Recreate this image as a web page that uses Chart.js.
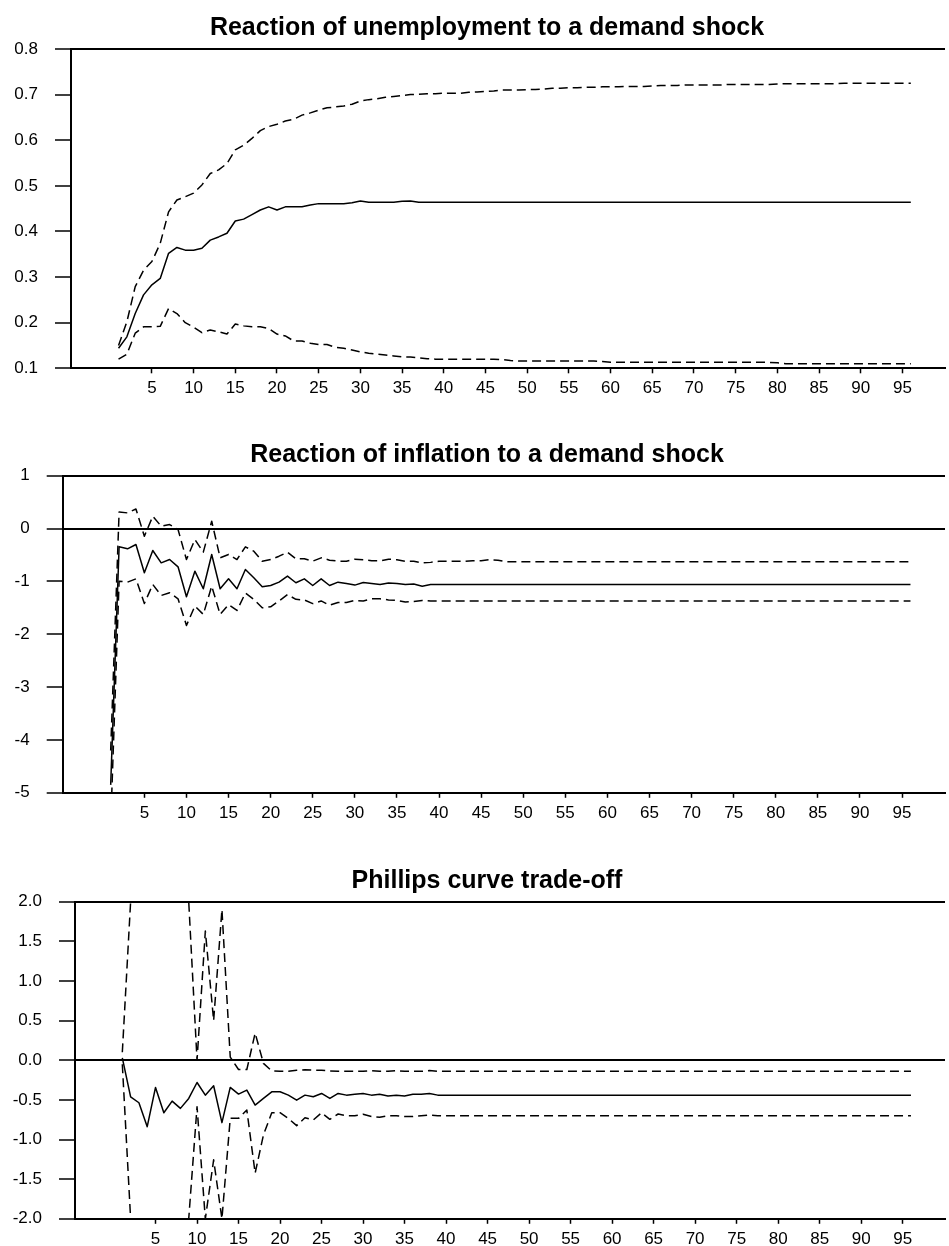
<!DOCTYPE html>
<html>
<head>
<meta charset="utf-8">
<title>Impulse responses to a demand shock</title>
<script src="https://cdn.jsdelivr.net/npm/chart.js@4.4.1/dist/chart.umd.min.js"></script>
<style>
  body { margin: 0; background: #fff; }
  #wrap { position: relative; width: 949px; height: 1246px; }
  .panel { position: absolute; left: 0; width: 949px; }
</style>
</head>
<body>
<div id="wrap">
  <div class="panel" style="top:0px;height:410px"><canvas id="unempChart" width="949" height="410"></canvas></div>
  <div class="panel" style="top:410px;height:410px"><canvas id="inflChart" width="949" height="410"></canvas></div>
  <div class="panel" style="top:820px;height:426px"><canvas id="tradeChart" width="949" height="426"></canvas></div>
</div>
<script>
// horizon steps (x categories)
var steps = [
  1, 2, 3, 4, 5, 6, 7, 8, 9, 10, 11, 12, 13, 14, 15, 16, 17, 18, 19, 20,
  21, 22, 23, 24, 25, 26, 27, 28, 29, 30, 31, 32, 33, 34, 35, 36, 37, 38, 39, 40,
  41, 42, 43, 44, 45, 46, 47, 48, 49, 50, 51, 52, 53, 54, 55, 56, 57, 58, 59, 60,
  61, 62, 63, 64, 65, 66, 67, 68, 69, 70, 71, 72, 73, 74, 75, 76, 77, 78, 79, 80,
  81, 82, 83, 84, 85, 86, 87, 88, 89, 90, 91, 92, 93, 94, 95, 96
];
var xTicks = [5, 10, 15, 20, 25, 30, 35, 40, 45, 50, 55, 60, 65, 70, 75, 80, 85, 90, 95];
var xLabels = ["5", "10", "15", "20", "25", "30", "35", "40", "45", "50", "55", "60", "65", "70", "75", "80", "85", "90", "95"];

// unemployment response
var unempIrf = [
  0.144, 0.169, 0.220, 0.261, 0.283, 0.297, 0.352, 0.365, 0.359, 0.359,
  0.363, 0.381, 0.388, 0.396, 0.423, 0.427, 0.437, 0.447, 0.454, 0.447,
  0.454, 0.454, 0.454, 0.458, 0.461, 0.461, 0.461, 0.461, 0.463, 0.467,
  0.464, 0.464, 0.464, 0.464, 0.466, 0.467, 0.464, 0.464, 0.464, 0.464,
  0.464, 0.464, 0.464, 0.464, 0.464, 0.464, 0.464, 0.464, 0.464, 0.464,
  0.464, 0.464, 0.464, 0.464, 0.464, 0.464, 0.464, 0.464, 0.464, 0.464,
  0.464, 0.464, 0.464, 0.464, 0.464, 0.464, 0.464, 0.464, 0.464, 0.464,
  0.464, 0.464, 0.464, 0.464, 0.464, 0.464, 0.464, 0.464, 0.464, 0.464,
  0.464, 0.464, 0.464, 0.464, 0.464, 0.464, 0.464, 0.464, 0.464, 0.464,
  0.464, 0.464, 0.464, 0.464, 0.464, 0.464
];
var unempUpper = [
  0.150, 0.202, 0.279, 0.315, 0.334, 0.374, 0.443, 0.469, 0.476, 0.484,
  0.502, 0.527, 0.535, 0.549, 0.579, 0.589, 0.604, 0.621, 0.630, 0.635,
  0.642, 0.646, 0.655, 0.660, 0.666, 0.671, 0.673, 0.675, 0.679, 0.686,
  0.689, 0.691, 0.694, 0.696, 0.698, 0.700, 0.701, 0.702, 0.702, 0.703,
  0.703, 0.703, 0.705, 0.706, 0.707, 0.708, 0.710, 0.710, 0.710, 0.711,
  0.711, 0.712, 0.714, 0.714, 0.715, 0.715, 0.716, 0.716, 0.717, 0.717,
  0.717, 0.718, 0.718, 0.718, 0.719, 0.720, 0.720, 0.720, 0.721, 0.721,
  0.721, 0.721, 0.721, 0.722, 0.722, 0.722, 0.722, 0.722, 0.722, 0.723,
  0.724, 0.724, 0.724, 0.724, 0.724, 0.724, 0.724, 0.725, 0.725, 0.725,
  0.725, 0.725, 0.725, 0.725, 0.725, 0.725
];
var unempLower = [
  0.120, 0.131, 0.177, 0.191, 0.191, 0.192, 0.231, 0.220, 0.200, 0.190,
  0.178, 0.184, 0.180, 0.175, 0.197, 0.193, 0.191, 0.191, 0.187, 0.175,
  0.171, 0.160, 0.160, 0.155, 0.152, 0.152, 0.146, 0.144, 0.140, 0.136,
  0.133, 0.131, 0.129, 0.127, 0.125, 0.125, 0.123, 0.121, 0.120, 0.120,
  0.120, 0.120, 0.120, 0.120, 0.120, 0.120, 0.119, 0.117, 0.116, 0.116,
  0.116, 0.116, 0.116, 0.116, 0.116, 0.116, 0.116, 0.116, 0.115, 0.113,
  0.113, 0.113, 0.113, 0.113, 0.113, 0.113, 0.113, 0.113, 0.113, 0.113,
  0.113, 0.113, 0.113, 0.113, 0.113, 0.113, 0.113, 0.113, 0.113, 0.112,
  0.110, 0.110, 0.110, 0.110, 0.110, 0.110, 0.110, 0.110, 0.110, 0.110,
  0.110, 0.110, 0.110, 0.110, 0.110, 0.110
];
var unempYTicks = [0.1, 0.2, 0.3, 0.4, 0.5, 0.6, 0.7, 0.8];
var unempYLabels = ["0.1", "0.2", "0.3", "0.4", "0.5", "0.6", "0.7", "0.8"];

// inflation response
var inflIrf = [
  -4.85, -0.346, -0.384, -0.302, -0.838, -0.416, -0.649, -0.586, -0.724, -1.291,
  -0.806, -1.140, -0.491, -1.140, -0.951, -1.140, -0.775, -0.932, -1.102, -1.077,
  -1.014, -0.900, -1.026, -0.951, -1.077, -0.951, -1.077, -1.014, -1.039, -1.070,
  -1.020, -1.040, -1.060, -1.030, -1.040, -1.060, -1.050, -1.090, -1.060, -1.060,
  -1.060, -1.060, -1.060, -1.060, -1.060, -1.060, -1.060, -1.060,
  -1.060, -1.060, -1.060, -1.060, -1.060, -1.060, -1.060, -1.060,
  -1.060, -1.060, -1.060, -1.060, -1.060, -1.060, -1.060, -1.060,
  -1.060, -1.060, -1.060, -1.060, -1.060, -1.060, -1.060, -1.060,
  -1.060, -1.060, -1.060, -1.060, -1.060, -1.060, -1.060, -1.060,
  -1.060, -1.060, -1.060, -1.060, -1.060, -1.060, -1.060, -1.060,
  -1.060, -1.060, -1.060, -1.060, -1.060, -1.060, -1.060, -1.060
];
var inflUpper = [
  -4.20, 0.315, 0.296, 0.370, -0.145, 0.233, 0.044, 0.076, -0.019, -0.586,
  -0.208, -0.447, 0.139, -0.554, -0.491, -0.586, -0.346, -0.428, -0.617, -0.586,
  -0.523, -0.447, -0.573, -0.573, -0.617, -0.554, -0.598, -0.617, -0.617, -0.580,
  -0.590, -0.610, -0.610, -0.580, -0.590, -0.620, -0.620, -0.650, -0.640, -0.620,
  -0.620, -0.620, -0.620, -0.610, -0.610, -0.590, -0.600, -0.630, -0.630, -0.630,
  -0.630, -0.630, -0.630, -0.630, -0.630, -0.630, -0.630, -0.630, -0.630, -0.630,
  -0.630, -0.630, -0.630, -0.630, -0.630, -0.630, -0.630, -0.630, -0.630, -0.630,
  -0.630, -0.630, -0.630, -0.630, -0.630, -0.630, -0.630, -0.630, -0.630, -0.630,
  -0.630, -0.630, -0.630, -0.630, -0.630, -0.630, -0.630, -0.630, -0.630, -0.630,
  -0.630, -0.630, -0.630, -0.630, -0.630, -0.630
];
var inflLower = [
  -5.60, -0.995, -1.014, -0.951, -1.417, -1.058, -1.266, -1.215, -1.329, -1.833,
  -1.467, -1.625, -1.089, -1.625, -1.440, -1.550, -1.220, -1.340, -1.500, -1.480,
  -1.370, -1.250, -1.340, -1.350, -1.420, -1.370, -1.450, -1.400, -1.400, -1.360,
  -1.370, -1.330, -1.330, -1.350, -1.360, -1.390, -1.380, -1.360, -1.370, -1.370,
  -1.370, -1.370, -1.370, -1.370, -1.370, -1.370, -1.370, -1.370,
  -1.370, -1.370, -1.370, -1.370, -1.370, -1.370, -1.370, -1.370,
  -1.370, -1.370, -1.370, -1.370, -1.370, -1.370, -1.370, -1.370,
  -1.370, -1.370, -1.370, -1.370, -1.370, -1.370, -1.370, -1.370,
  -1.370, -1.370, -1.370, -1.370, -1.370, -1.370, -1.370, -1.370,
  -1.370, -1.370, -1.370, -1.370, -1.370, -1.370, -1.370, -1.370,
  -1.370, -1.370, -1.370, -1.370, -1.370, -1.370, -1.370, -1.370
];
var inflYTicks = [-5, -4, -3, -2, -1, 0, 1];
var inflYLabels = ["-5", "-4", "-3", "-2", "-1", "0", "1"];

// phillips curve trade-off
var tradeIrf = [
  0.030, -0.461, -0.536, -0.838, -0.343, -0.662, -0.515, -0.607, -0.482, -0.281,
  -0.440, -0.322, -0.787, -0.343, -0.427, -0.377, -0.565, -0.482, -0.398, -0.398,
  -0.440, -0.503, -0.440, -0.461, -0.419, -0.482, -0.419, -0.440, -0.430, -0.420,
  -0.440, -0.430, -0.450, -0.440, -0.450, -0.430, -0.430, -0.420, -0.440, -0.440,
  -0.440, -0.440, -0.440, -0.440, -0.440, -0.440, -0.440, -0.440,
  -0.440, -0.440, -0.440, -0.440, -0.440, -0.440, -0.440, -0.440,
  -0.440, -0.440, -0.440, -0.440, -0.440, -0.440, -0.440, -0.440,
  -0.440, -0.440, -0.440, -0.440, -0.440, -0.440, -0.440, -0.440,
  -0.440, -0.440, -0.440, -0.440, -0.440, -0.440, -0.440, -0.440,
  -0.440, -0.440, -0.440, -0.440, -0.440, -0.440, -0.440, -0.440,
  -0.440, -0.440, -0.440, -0.440, -0.440, -0.440, -0.440, -0.440
];
var tradeUpper = [
  0.100, 2.000, 2.000, 2.000, 2.000, 2.000, 2.000, 2.000, 2.000, 0.000,
  1.630, 0.500, 1.900, 0.040, -0.117, -0.117, 0.343, -0.040, -0.134, -0.138,
  -0.138, -0.126, -0.120, -0.126, -0.126, -0.134, -0.138, -0.138, -0.140, -0.140,
  -0.130, -0.140, -0.140, -0.130, -0.140, -0.140, -0.140, -0.130, -0.140, -0.140,
  -0.140, -0.140, -0.140, -0.140, -0.140, -0.140, -0.140, -0.140,
  -0.140, -0.140, -0.140, -0.140, -0.140, -0.140, -0.140, -0.140,
  -0.140, -0.140, -0.140, -0.140, -0.140, -0.140, -0.140, -0.140,
  -0.140, -0.140, -0.140, -0.140, -0.140, -0.140, -0.140, -0.140,
  -0.140, -0.140, -0.140, -0.140, -0.140, -0.140, -0.140, -0.140,
  -0.140, -0.140, -0.140, -0.140, -0.140, -0.140, -0.140, -0.140,
  -0.140, -0.140, -0.140, -0.140, -0.140, -0.140, -0.140, -0.140
];
var tradeLower = [
  -0.050, -2.000, -2.000, -2.000, -2.000, -2.000, -2.000, -2.000, -2.000, -0.586,
  -2.000, -1.256, -2.000, -0.733, -0.733, -0.628, -1.424, -0.942, -0.662, -0.662,
  -0.733, -0.825, -0.725, -0.754, -0.662, -0.745, -0.678, -0.700, -0.700, -0.680,
  -0.710, -0.720, -0.700, -0.700, -0.710, -0.710, -0.700, -0.690, -0.700, -0.700,
  -0.700, -0.700, -0.700, -0.700, -0.700, -0.700, -0.700, -0.700,
  -0.700, -0.700, -0.700, -0.700, -0.700, -0.700, -0.700, -0.700,
  -0.700, -0.700, -0.700, -0.700, -0.700, -0.700, -0.700, -0.700,
  -0.700, -0.700, -0.700, -0.700, -0.700, -0.700, -0.700, -0.700,
  -0.700, -0.700, -0.700, -0.700, -0.700, -0.700, -0.700, -0.700,
  -0.700, -0.700, -0.700, -0.700, -0.700, -0.700, -0.700, -0.700,
  -0.700, -0.700, -0.700, -0.700, -0.700, -0.700, -0.700, -0.700
];
var tradeYTicks = [-2.0, -1.5, -1.0, -0.5, 0.0, 0.5, 1.0, 1.5, 2.0];
var tradeYLabels = ["-2.0", "-1.5", "-1.0", "-0.5", "0.0", "0.5", "1.0", "1.5", "2.0"];

var FONT = "'Liberation Sans', Arial, Helvetica, sans-serif";
var PAD_RIGHT = 4;
var TITLE_X = 487;

function toPoints(vals) {
  return steps.map(function (s, i) { return { x: s, y: vals[i] }; });
}

// panel title drawn a bit left of the plot centre, like the original
var titlePlugin = {
  id: "panelTitle",
  afterDraw: function (chart, args, opts) {
    var ctx = chart.ctx;
    ctx.save();
    ctx.fillStyle = "#000";
    ctx.font = "bold 25px " + FONT;
    ctx.textAlign = "center";
    ctx.textBaseline = "alphabetic";
    ctx.fillText(opts.text, TITLE_X, chart.chartArea.top - 14);
    ctx.restore();
  }
};

// box: chart area edges inside the canvas (top, bottom, left)
function makePanel(id, title, irf, upper, lower, yTicks, yLabels, box) {
  var canvas = document.getElementById(id);
  var canvasH = canvas.height;
  var yMin = yTicks[0], yMax = yTicks[yTicks.length - 1];

  return new Chart(canvas.getContext("2d"), {
    type: "line",
    data: {
      datasets: [
        { data: toPoints(upper), borderDash: [9, 5] },
        { data: toPoints(irf) },
        { data: toPoints(lower), borderDash: [9, 5] }
      ]
    },
    plugins: [titlePlugin],
    options: {
      responsive: false,
      animation: false,
      layout: { padding: { left: 0, right: PAD_RIGHT, top: box.top, bottom: 0 } },
      elements: {
        point: { radius: 0 },
        line: { borderColor: "#000", borderWidth: 1.5, tension: 0, fill: false, borderJoinStyle: "round" }
      },
      plugins: {
        legend: { display: false },
        tooltip: { enabled: false },
        title: { display: false },
        panelTitle: { text: title }
      },
      scales: {
        x: {
          type: "linear",
          bounds: "data",
          min: -4.7,
          max: 100.1,
          afterBuildTicks: function (s) {
            s.ticks = xTicks.map(function (v) { return { value: v }; });
          },
          afterFit: function (s) { s.height = canvasH - box.bottom; },
          grid: { color: "transparent", tickColor: "#000", tickLength: 5, tickWidth: 1.5 },
          border: { color: "#000", width: 2 },
          ticks: {
            color: "#000",
            font: { family: FONT, size: 17 },
            padding: 5,
            maxRotation: 0,
            autoSkip: false,
            callback: function (v, i) { return xLabels[i]; }
          }
        },
        y: {
          type: "linear",
          bounds: "data",
          min: yMin,
          max: yMax,
          afterBuildTicks: function (s) {
            s.ticks = yTicks.map(function (v) { return { value: v }; });
          },
          afterFit: function (s) { s.width = box.left; },
          grid: {
            color: function (c) {
              if (!c.tick) return "transparent";
              return (c.tick.value === yMax || c.tick.value === 0) ? "#000" : "transparent";
            },
            lineWidth: 2,
            tickColor: "#000",
            tickLength: 16,
            tickWidth: 1.5
          },
          border: { color: "#000", width: 2 },
          ticks: {
            color: "#000",
            font: { family: FONT, size: 17 },
            padding: 17,
            autoSkip: false,
            callback: function (v, i) { return yLabels[i]; }
          }
        }
      }
    }
  });
}

document.addEventListener("DOMContentLoaded", function () {
  makePanel("unempChart", "Reaction of unemployment to a demand shock",
    unempIrf, unempUpper, unempLower, unempYTicks, unempYLabels,
    { top: 49, bottom: 368.3, left: 71 });
  makePanel("inflChart", "Reaction of inflation to a demand shock",
    inflIrf, inflUpper, inflLower, inflYTicks, inflYLabels,
    { top: 65.7, bottom: 383.3, left: 62.7 });
  makePanel("tradeChart", "Phillips curve trade-off",
    tradeIrf, tradeUpper, tradeLower, tradeYTicks, tradeYLabels,
    { top: 81.7, bottom: 400, left: 75 });
});
</script>
</body>
</html>
